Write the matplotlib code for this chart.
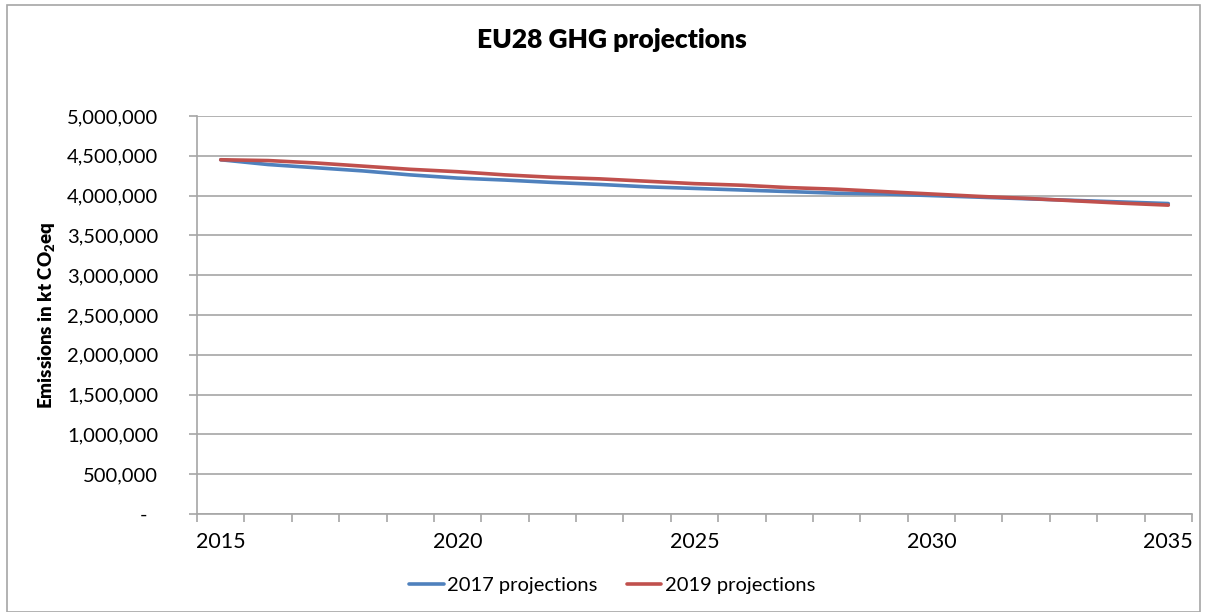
import numpy as np
import matplotlib.pyplot as plt
from matplotlib.ticker import FuncFormatter, FixedLocator, MultipleLocator

plt.rcParams['font.family'] = ['Lato', 'DejaVu Sans']
plt.rcParams['mathtext.default'] = 'regular'

#  DATA
years = [2015, 2016, 2017, 2018, 2019, 2020, 2021, 2022, 2023, 2024, 2025,
         2026, 2027, 2028, 2029, 2030, 2031, 2032, 2033, 2034, 2035]
proj_2017 = [4450000, 4390000, 4350000, 4310000, 4260000, 4220000, 4195000,
             4165000, 4140000, 4110000, 4090000, 4070000, 4050000, 4030000,
             4020000, 4000000, 3980000, 3960000, 3940000, 3920000, 3900000]
proj_2019 = [4450000, 4440000, 4410000, 4370000, 4330000, 4300000, 4260000,
             4230000, 4210000, 4180000, 4150000, 4130000, 4100000, 4080000,
             4050000, 4020000, 3990000, 3965000, 3935000, 3905000, 3880000]
series_names = ["2017 projections", "2019 projections"]
label_years = [2015, 2020, 2025, 2030, 2035]

BLUE = "#4F81BD"
RED = "#C0504D"
GRID = "#A6A6A6"

#  FIGURE
fig = plt.figure(figsize=(12.05, 6.12), dpi=100)
fig.patches.append(plt.Rectangle((0.006, 0.0), 0.99, 0.992, transform=fig.transFigure,
                                 fill=False, edgecolor="#A6A6A6", linewidth=1.2))
ax = fig.add_axes([0.1635, 0.1601, 0.8257, 0.6504])

x = np.arange(len(years))
ax.plot(x, proj_2017, color=BLUE, linewidth=2.6, label=series_names[0], solid_capstyle='round')
ax.plot(x, proj_2019, color=RED, linewidth=2.6, label=series_names[1], solid_capstyle='round')

# category axis: labels on category centres, tick marks on boundaries
ax.set_xlim(-0.5, len(years) - 0.5)
ax.xaxis.set_major_locator(FixedLocator([years.index(y) for y in label_years]))
ax.set_xticklabels([str(y) for y in label_years])
ax.xaxis.set_minor_locator(FixedLocator(np.arange(len(years) + 1) - 0.5))
ax.tick_params(axis='x', which='major', length=0, pad=13, labelsize=15.5)
ax.tick_params(axis='x', which='minor', length=6, width=1.2, color=GRID, direction='out')

ax.set_ylim(0, 5000000)
ax.yaxis.set_major_locator(MultipleLocator(500000))
ax.yaxis.set_major_formatter(FuncFormatter(lambda v, p: "-  " if v == 0 else f"{v:,.0f}"))
ax.tick_params(axis='y', length=6, width=1.2, color=GRID, pad=22, labelsize=14.5)
ax.grid(axis='y', color=GRID, linewidth=1.2)
ax.set_axisbelow(True)

for s in ['top', 'right']:
    ax.spines[s].set_visible(False)
for s in ['left', 'bottom']:
    ax.spines[s].set_color(GRID)
    ax.spines[s].set_linewidth(1.2)

ax.set_ylabel(r"Emissions in kt CO$_2$eq", fontsize=13.5, fontweight='heavy', labelpad=7)
fig.text(0.508, 0.935, "EU28 GHG projections", ha='center', va='center',
         fontsize=19, fontweight='heavy')

fig.legend(loc='lower center', bbox_to_anchor=(0.508, 0.0), ncol=2, frameon=False,
           fontsize=14.5, handlelength=1.7, handletextpad=0.15, columnspacing=1.5)

plt.savefig("out.png", dpi=100)
